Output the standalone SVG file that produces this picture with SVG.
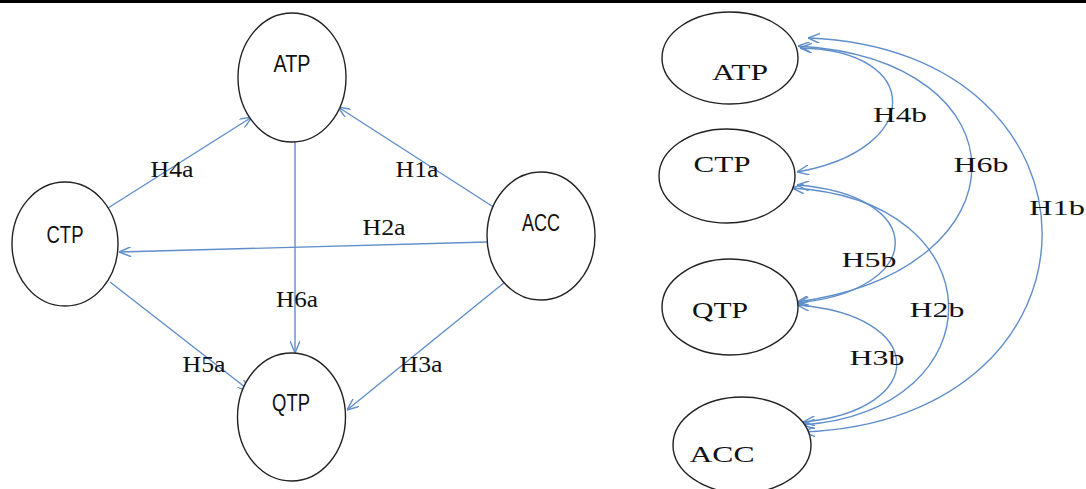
<svg xmlns="http://www.w3.org/2000/svg" width="1086" height="489" viewBox="0 0 1086 489">
<style>
.n{fill:#fff;stroke:#222;stroke-width:1.4}
.c{fill:none;stroke:#5f8ecb;stroke-width:1.4}
.ls{font-family:"Liberation Sans",Arial,sans-serif;font-size:23px;fill:#111;text-anchor:middle}
.rs{font-family:"Liberation Serif","Times New Roman",serif;font-size:24px;fill:#111;text-anchor:middle}
.lb{font-family:"Liberation Serif","Times New Roman",serif;font-size:24px;fill:#111;text-anchor:middle}
.rb{font-family:"Liberation Serif","Times New Roman",serif;font-size:22px;fill:#111;text-anchor:middle}
</style>
<defs>
<marker id="ah" viewBox="0 0 12 10" refX="12" refY="5" markerWidth="12" markerHeight="10" markerUnits="userSpaceOnUse" orient="auto-start-reverse">
<path d="M0,0 L12,5 L0,10" fill="none" stroke="#5f8ecb" stroke-width="1.4"/>
</marker>
</defs>
<rect x="0" y="0" width="1086" height="3" fill="#000"/>
<g id="connectors">
<line class="c" x1="108" y1="208" x2="252" y2="117" marker-end="url(#ah)"/>
<line class="c" x1="495" y1="208" x2="338" y2="107" marker-end="url(#ah)"/>
<line class="c" x1="487" y1="242" x2="119" y2="252" marker-end="url(#ah)"/>
<line class="c" x1="295" y1="142" x2="295" y2="353" marker-end="url(#ah)"/>
<line class="c" x1="110" y1="282" x2="250" y2="391" marker-end="url(#ah)"/>
<line class="c" x1="505" y1="282" x2="347" y2="410" marker-end="url(#ah)"/>
<path class="c" d="M800 48 C924 50 924 150 797 172" marker-start="url(#ah)" marker-end="url(#ah)"/>
<path class="c" d="M798 46 C1030 60 1030 270 797 302" marker-start="url(#ah)" marker-end="url(#ah)"/>
<path class="c" d="M808 38 C1121 50 1121 420 803 432" marker-start="url(#ah)" marker-end="url(#ah)"/>
<path class="c" d="M797 185 C928 195 928 290 797 303" marker-start="url(#ah)" marker-end="url(#ah)"/>
<path class="c" d="M792 188 C999 200 999 410 803 425" marker-start="url(#ah)" marker-end="url(#ah)"/>
<path class="c" d="M797 305 C929 315 929 410 803 422" marker-start="url(#ah)" marker-end="url(#ah)"/>
<text class="lb" x="172" y="177" textLength="43" lengthAdjust="spacingAndGlyphs">H4a</text>
<text class="lb" x="417" y="177" textLength="43" lengthAdjust="spacingAndGlyphs">H1a</text>
<text class="lb" x="384" y="235" textLength="43" lengthAdjust="spacingAndGlyphs">H2a</text>
<text class="lb" x="297" y="307" textLength="42" lengthAdjust="spacingAndGlyphs">H6a</text>
<text class="lb" x="204" y="372" textLength="43" lengthAdjust="spacingAndGlyphs">H5a</text>
<text class="lb" x="421" y="372" textLength="43" lengthAdjust="spacingAndGlyphs">H3a</text>
<text class="rb" x="900" y="122" textLength="54" lengthAdjust="spacingAndGlyphs">H4b</text>
<text class="rb" x="981" y="172" textLength="55" lengthAdjust="spacingAndGlyphs">H6b</text>
<text class="rb" x="1057" y="215" textLength="56" lengthAdjust="spacingAndGlyphs">H1b</text>
<text class="rb" x="869" y="267" textLength="55" lengthAdjust="spacingAndGlyphs">H5b</text>
<text class="rb" x="937" y="317" textLength="55" lengthAdjust="spacingAndGlyphs">H2b</text>
<text class="rb" x="877" y="365" textLength="55" lengthAdjust="spacingAndGlyphs">H3b</text>
</g>
<g id="atp-l"><ellipse class="n" cx="292" cy="77.5" rx="54" ry="64.5"/><text class="ls" x="292" y="72" textLength="37" lengthAdjust="spacingAndGlyphs">ATP</text></g>
<g id="ctp-l"><ellipse class="n" cx="65" cy="244" rx="53" ry="62"/><text class="ls" x="65" y="243" textLength="37" lengthAdjust="spacingAndGlyphs">CTP</text></g>
<g id="acc-l"><ellipse class="n" cx="541" cy="236" rx="54" ry="64"/><text class="ls" x="541" y="231" textLength="38" lengthAdjust="spacingAndGlyphs">ACC</text></g>
<g id="qtp-l"><ellipse class="n" cx="291.5" cy="417" rx="54" ry="64"/><text class="ls" x="291" y="411" textLength="38" lengthAdjust="spacingAndGlyphs">QTP</text></g>
<g id="atp-r"><ellipse class="n" cx="730" cy="58" rx="68" ry="46"/><text class="rs" x="740" y="80" textLength="56" lengthAdjust="spacingAndGlyphs">ATP</text></g>
<g id="ctp-r"><ellipse class="n" cx="727" cy="176" rx="68" ry="47"/><text class="rs" x="722" y="172" textLength="57" lengthAdjust="spacingAndGlyphs">CTP</text></g>
<g id="qtp-r"><ellipse class="n" cx="730" cy="307" rx="68" ry="48"/><text class="rs" x="720" y="318" textLength="56" lengthAdjust="spacingAndGlyphs">QTP</text></g>
<g id="acc-r"><ellipse class="n" cx="742" cy="445" rx="69" ry="48"/><text class="rs" x="722" y="462" textLength="65" lengthAdjust="spacingAndGlyphs">ACC</text></g>
</svg>
